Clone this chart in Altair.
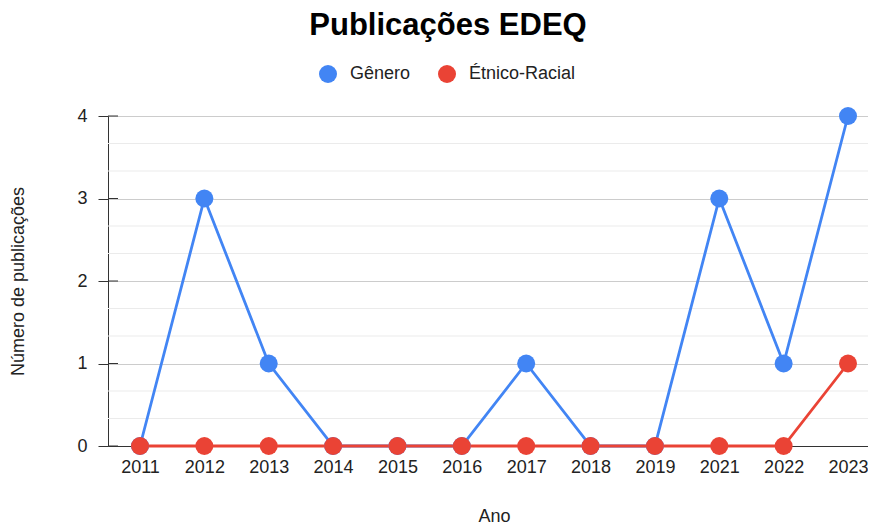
import altair as alt
import pandas as pd

anos = ["2011", "2012", "2013", "2014", "2015", "2016", "2017", "2018", "2019", "2021", "2022", "2023"]
genero = [0, 3, 1, 0, 0, 0, 1, 0, 0, 3, 1, 4]
etnico = [0, 0, 0, 0, 0, 0, 0, 0, 0, 0, 0, 1]
series = ["Gênero", "Étnico-Racial"]
cores = ["#4285F4", "#EA4335"]
y_ticks = [0, 1, 2, 3, 4]
y_minor = [1/3, 2/3, 4/3, 5/3, 7/3, 8/3, 10/3, 11/3]

rows = []
for i, (a, v) in enumerate(zip(anos, genero)):
    rows.append({"i": i, "Ano": a, "Serie": series[0], "Valor": v, "ord": 0})
for i, (a, v) in enumerate(zip(anos, etnico)):
    rows.append({"i": i, "Ano": a, "Serie": series[1], "Valor": v, "ord": 1})
df = pd.DataFrame(rows)

FONT = "Liberation Sans"
W, H = 760, 330
X0, X1 = 32, 740
STEP = (X1 - X0) / (len(anos) - 1)

label_expr = "[" + ",".join("'%s'" % a for a in anos) + "][datum.value]"

x_scale = alt.Scale(domain=[-X0 / STEP, (len(anos) - 1) + (W - X1) / STEP], nice=False, zero=False)
y_scale = alt.Scale(domain=[0, 4], nice=False, zero=True)
x_axis = alt.Axis(title="Ano", values=list(range(len(anos))), labelExpr=label_expr,
                  labelAngle=0, ticks=False, tickSize=0, labelPadding=12,
                  domainColor="#333333", grid=False, titleY=70, titleBaseline="middle",
                  titleX=(X0 + X1) / 2)
y_axis = alt.Axis(title="Número de publicações", values=y_ticks, tickSize=10, tickColor="#333333",
                  labelPadding=11, domainColor="#333333", grid=True, gridColor="#cccccc",
                  titleX=-90, titleY=H / 2, titleAngle=-90, titleBaseline="middle", titleAlign="center",
                  format="d")

X = alt.X("i:Q", scale=x_scale, axis=x_axis)
Y = alt.Y("Valor:Q", scale=y_scale, axis=y_axis)

color_enc = alt.Color("Serie:N", scale=alt.Scale(domain=series, range=cores),
                      legend=alt.Legend(title=None, orient="none", direction="horizontal",
                                        legendX=211, legendY=-51, symbolType="circle", symbolSize=324,
                                        labelFontSize=18, labelFont=FONT, labelColor="#222222",
                                        labelOffset=13, columnPadding=27, padding=0,
                                        symbolStrokeWidth=0, symbolOpacity=1))

minor = alt.Chart(pd.DataFrame({"Valor": y_minor})).mark_rule(color="#ebebeb", strokeWidth=1).encode(y=Y)
inner_ticks = alt.Chart(pd.DataFrame({"Valor": y_ticks})).mark_rule(color="#333333", strokeWidth=1).encode(
    y=Y, x=alt.value(0), x2=alt.value(10))

lines = alt.Chart(df).mark_line(strokeWidth=2.8).encode(
    x=X, y=Y, color=color_enc, detail="Serie:N")

points = alt.Chart(df).mark_circle(size=324, opacity=1).encode(
    x=X, y=Y, color=color_enc, order=alt.Order("ord:Q"))

chart = alt.layer(minor, inner_ticks, lines, points).properties(
    width=W, height=H,
    autosize=alt.AutoSizeParams(type="none"),
    padding={"left": 100, "top": 108, "right": 0, "bottom": 78},
    title=alt.TitleParams("Publicações EDEQ", fontSize=31, font=FONT, fontWeight="bold", color="#000000",
                          anchor="middle", frame="group", dx=-40, offset=23),
).configure_axis(
    labelFont=FONT, labelFontSize=18, labelColor="#222222",
    titleFont=FONT, titleFontSize=18, titleColor="#222222", titleFontWeight="normal",
).configure_view(stroke=None)

chart.save("out.html", embed_options={"renderer": "svg", "actions": False})
